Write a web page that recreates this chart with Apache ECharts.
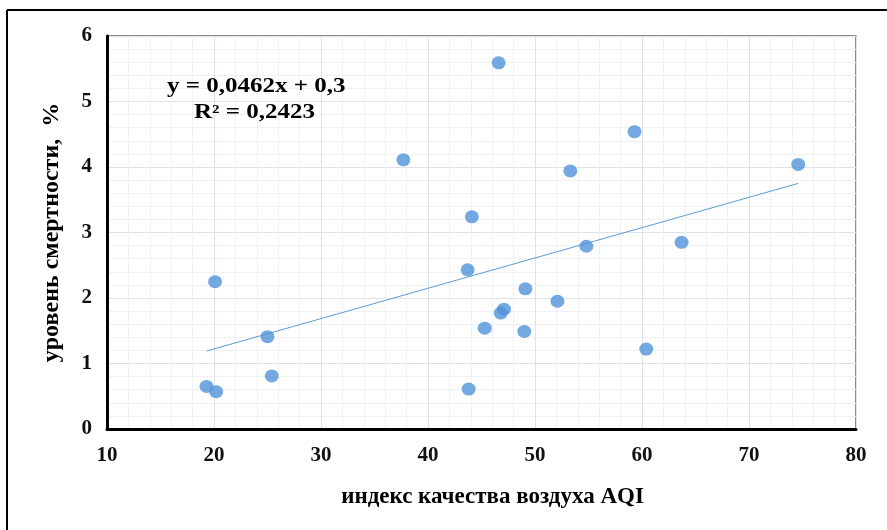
<!DOCTYPE html>
<html>
<head>
<meta charset="utf-8">
<script src="https://cdn.jsdelivr.net/npm/echarts@6/dist/echarts.min.js"></script>
<style>
  html, body { margin: 0; padding: 0; background: #fff; }
  #graph { width: 887px; height: 530px; }
</style>
</head>
<body>
<div id="graph"></div>
<script>
// значения
const aqi = [19.3, 20.2, 20.1, 25.0, 25.4, 37.7, 46.6, 59.3, 53.3, 74.6, 44.1,
  54.8, 63.7, 43.7, 49.1, 52.1, 47.1, 46.8, 45.3, 49.0, 60.4, 43.8];
const mortality = [0.65, 0.57, 2.25, 1.41, 0.81, 4.11, 5.59, 4.54, 3.94, 4.04, 3.24,
  2.79, 2.85, 2.43, 2.14, 1.95, 1.83, 1.77, 1.54, 1.49, 1.22, 0.61];
const trendX = [19.3, 74.6];
const trendY = [1.19, 3.75];
const xTicks = [10, 80];
const yTicks = [0, 6];
const equation = ['y = 0,0462x + 0,3', 'R² = 0,2423'];

const chartDom = document.getElementById('graph');
const myChart = echarts.init(chartDom);

const font = '"Liberation Serif", "Times New Roman", serif';

const titleStyle = {
  fontFamily: font,
  fontWeight: 'bold',
  fontSize: 23,
  color: '#000',
};
const tickStyle = {
  fontFamily: font,
  fontWeight: 'bold',
  fontSize: 21,
  color: '#111',
};

const option = {
  animation: false,
  grid: {
    left: 107,
    top: 36,
    right: 31,
    bottom: 101,
    show: true,
    borderColor: '#666',
    borderWidth: 1.5,
  },
  xAxis: {
    type: 'value',
    min: xTicks[0],
    max: xTicks[1],
    interval: 10,
    name: 'индекс качества воздуха AQI',
    nameLocation: 'middle',
    nameGap: 57,
    nameTextStyle: Object.assign({ padding: [0, 0, 0, 22] }, titleStyle),
    axisLine: { show: true, lineStyle: { color: '#000', width: 3 } },
    axisTick: { show: false },
    axisLabel: Object.assign({ margin: 16 }, tickStyle),
    splitLine: { show: true, lineStyle: { color: '#dde2ea', width: 1 } },
    minorTick: { show: false, splitNumber: 5 },
    minorSplitLine: { show: true, lineStyle: { color: '#eff1f4', width: 1 } },
  },
  yAxis: {
    type: 'value',
    min: yTicks[0],
    max: yTicks[1],
    interval: 1,
    name: 'уровень смертности,  %',
    nameLocation: 'middle',
    nameGap: 43,
    nameTextStyle: Object.assign({}, titleStyle, { fontSize: 24 }),
    axisLine: { show: true, lineStyle: { color: '#000', width: 3 } },
    axisTick: { show: false },
    axisLabel: Object.assign({ margin: 15 }, tickStyle),
    splitLine: { show: true, lineStyle: { color: '#dde2ea', width: 1 } },
    minorTick: { show: false, splitNumber: 5 },
    minorSplitLine: { show: true, lineStyle: { color: '#eff1f4', width: 1 } },
  },
  graphic: [
    {
      type: 'line',
      shape: { x1: 7, y1: 10, x2: 887, y2: 10 },
      style: { stroke: '#000', lineWidth: 2 },
    },
    {
      type: 'line',
      shape: { x1: 7, y1: 10, x2: 7, y2: 530 },
      style: { stroke: '#000', lineWidth: 2 },
    },
    {
      type: 'text',
      x: 167,
      y: 77,
      z: 100,
      scaleX: 1.25,
      style: {
        text: equation[0],
        fontFamily: font,
        fontWeight: 'bold',
        fontSize: 20,
        verticalAlign: 'top',
        fill: '#000',
      },
    },
    {
      type: 'text',
      x: 194,
      y: 103,
      z: 100,
      scaleX: 1.25,
      style: {
        text: equation[1],
        fontFamily: font,
        fontWeight: 'bold',
        fontSize: 20,
        verticalAlign: 'top',
        fill: '#000',
      },
    },
  ],
  series: [
    {
      name: 'Тренд',
      type: 'line',
      data: trendX.map((x, i) => [x, trendY[i]]),
      showSymbol: false,
      lineStyle: { color: '#5b9bd5', width: 1 },
      z: 2,
    },
    {
      name: 'AQI',
      type: 'scatter',
      data: aqi.map((x, i) => [x, mortality[i]]),
      symbolSize: [14, 13],
      itemStyle: { color: '#5093d8' },
      z: 3,
    },
  ],
};

myChart.setOption(option);
</script>
</body>
</html>
